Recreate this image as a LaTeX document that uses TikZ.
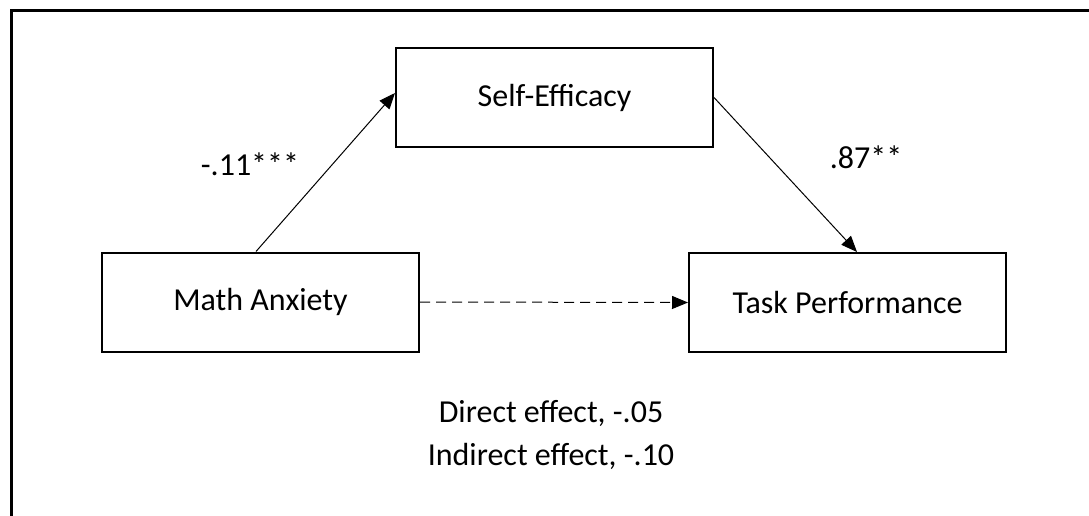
\documentclass[tikz,border=0pt]{standalone}
\usepackage{fontspec}
\setmainfont{Carlito}
\usetikzlibrary{arrows.meta,calc}
\begin{document}
\begin{tikzpicture}[x=1pt,y=-1pt,
  varbox/.style={draw,line width=2pt,minimum width=317pt,minimum height=99pt,inner sep=0pt,
    font=\fontsize{32}{38}\selectfont},
  lbl/.style={inner sep=0pt,font=\fontsize{32}{38}\selectfont},
  path/.style={line width=1pt,-{Triangle[length=16pt,width=13pt]}}]
\useasboundingbox (0,0) rectangle (1089,516);
\clip (0,0) rectangle (1089,516);
% outer frame (only its top and left sides fall inside the page)
\draw[line width=3pt] (11,530) -- (11,11) -- (1100,11);

% variables
\node[varbox] (se) at (554.5,97.5) {Self-Efficacy};
\node[varbox] (ma) at (260.5,302) {Math Anxiety};
\node[varbox] (tp) at (847.5,302.5) {Task Performance};

% paths
\draw[path] ([xshift=-4.5pt]ma.north) -- ([yshift=4.5pt]se.west);
\draw[path] (se.east) -- ([xshift=9.5pt]tp.north);
\draw[path,dash pattern=on 10pt off 6pt] (ma.east) -- (tp.west);

% coefficients
\node[lbl] (a) at (250,164) {-.11***};
\node[lbl] (b) at (866,157) {.87**};

% effects
\node[lbl] (d) at (551,413) {Direct effect, -.05};
\node[lbl] (i) at (551,456) {Indirect effect, -.10};
\end{tikzpicture}
\end{document}
